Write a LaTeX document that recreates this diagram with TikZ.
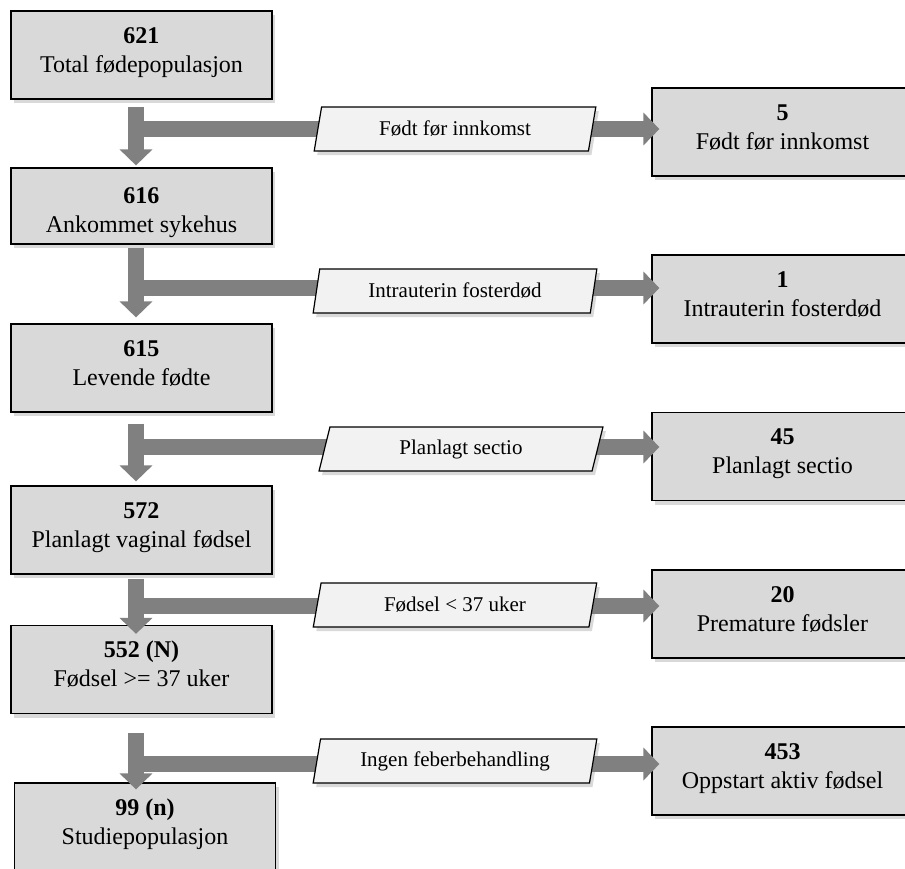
\documentclass[tikz,border=0pt]{standalone}
\usepackage{fontspec}
\setmainfont{Liberation Serif}
\usetikzlibrary{arrows.meta,shapes.geometric,shadows,calc}
\definecolor{boxgrey}{HTML}{D9D9D9}
\definecolor{lblgrey}{HTML}{F2F2F2}
\definecolor{flowgrey}{HTML}{808080}
\tikzset{
  box/.style={rectangle, draw=black, line width=0.6pt, fill=boxgrey,
    drop shadow={shadow xshift=1.5pt, shadow yshift=-2pt, opacity=0.3},
    minimum width=130.5pt, text width=124pt, inner xsep=3pt, inner ysep=0pt,
    align=flush center, font=\fontsize{12}{14.5}\selectfont,
    minimum height=44pt, text height=16pt, text depth=28pt},
  lbl/.style={trapezium, trapezium left angle=75, trapezium right angle=105,
    trapezium stretches=true, draw=black, line width=0.6pt, fill=lblgrey,
    drop shadow={shadow xshift=1.5pt, shadow yshift=-2pt, opacity=0.3},
    minimum width=142pt, minimum height=22pt, inner sep=0pt,
    font=\fontsize{10.5}{12.5}\selectfont},
  flow/.style={draw=flowgrey, line width=8pt, -{Triangle[width=16pt, length=8pt]}}
}

\begin{document}
\begin{tikzpicture}[x=0.5pt, y=-0.5pt]
  \useasboundingbox (0,0) rectangle (905,868);
  \clip (0,0) rectangle (905,868);

  % main column
  \node[box] (Total) at (141.5,55) {\textbf{621}\\Total fødepopulasjon};
  \node[box, minimum height=38pt, text height=17.5pt, text depth=20.5pt]
    (Ankommet) at (141.5,206) {\textbf{616}\\Ankommet sykehus};
  \node[box] (Levende) at (141.5,368) {\textbf{615}\\Levende fødte};
  \node[box] (Vaginal) at (141.5,530) {\textbf{572}\\Planlagt vaginal fødsel};
  \node[box] (Termin) at (141.5,669.5) {\textbf{552 (N)}\\Fødsel >= 37 uker};
  \node[box] (Studie) at (145,827) {\textbf{99 (n)}\\Studiepopulasjon};

  % excluded
  \node[box] (Innkomst) at (782.5,132) {\textbf{5}\\Født før innkomst};
  \node[box] (Fosterdod) at (782.5,299) {\textbf{1}\\Intrauterin fosterdød};
  \node[box] (Sectio) at (782.5,456.5) {\textbf{45}\\Planlagt sectio};
  \node[box] (Premature) at (782.5,614) {\textbf{20}\\Premature fødsler};
  \node[box] (Aktiv) at (782.5,771) {\textbf{453}\\Oppstart aktiv fødsel};

  \coordinate (j1) at (136,129);
  \coordinate (j2) at (136,288);
  \coordinate (j3) at (136,447);
  \coordinate (j4) at (136,606);
  \coordinate (j5) at (136,764);

  % down arrows
  \draw[flow] ($(Total.south -| j1)+(0,7)$) -- ($(Ankommet.north -| j1)+(0,-2)$);
  \draw[flow] ($(Ankommet.south -| j2)+(0,3)$) -- ($(Levende.north -| j2)+(0,-6)$);
  \draw[flow] ($(Levende.south -| j3)+(0,11)$) -- ($(Vaginal.north -| j3)+(0,-4)$);
  \draw[flow] ($(Vaginal.south -| j4)+(0,4)$) -- ($(Termin.north -| j4)+(0,9)$);
  \draw[flow] ($(Termin.south -| j5)+(0,19)$) -- ($(Studie.north -| j5)+(0,7)$);

  % side arrows
  \draw[flow] (j1) -- ($(j1 -| Innkomst.west)+(8,0)$);
  \draw[flow] (j2) -- ($(j2 -| Fosterdod.west)+(8,0)$);
  \draw[flow] (j3) -- ($(j3 -| Sectio.west)+(8,0)$);
  \draw[flow] (j4) -- ($(j4 -| Premature.west)+(8,0)$);
  \draw[flow] (j5) -- ($(j5 -| Aktiv.west)+(8,0)$);

  \node[lbl] (LblInnkomst) at (455,129) {Født før innkomst};
  \node[lbl] (LblFosterdod) at (455,291) {Intrauterin fosterdød};
  \node[lbl] (LblSectio) at (461,449) {Planlagt sectio};
  \node[lbl] (LblPremature) at (455,605) {Fødsel < 37 uker};
  \node[lbl] (LblAktiv) at (455,761) {Ingen feberbehandling};
\end{tikzpicture}
\end{document}
